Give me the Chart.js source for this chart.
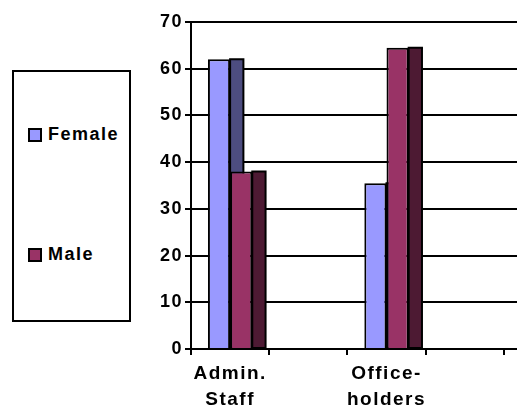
<!DOCTYPE html>
<html>
<head>
<meta charset="utf-8">
<script src="https://cdn.jsdelivr.net/npm/chart.js@4/dist/chart.umd.min.js"></script>
<style>
    html, body { margin: 0; padding: 0; width: 517px; height: 411px; overflow: hidden; background: #fff; }
    #chartWrap { position: absolute; left: 0; top: 0; width: 600px; height: 411px; }
    #legendBox {
        position: absolute; left: 12px; top: 70px; width: 115px; height: 248px;
        border: 2px solid #000; background: #fff;
        font-family: Arial, "Liberation Sans", sans-serif; font-weight: bold; font-size: 18px;
        letter-spacing: 1.5px;
    }
    .lg-item { position: absolute; left: 14px; display: flex; align-items: center; }
    .lg-swatch { width: 10px; height: 10px; border: 2px solid #000; margin-right: 6px; }
</style>
</head>
<body>
<div id="chartWrap"><canvas id="chart" width="600" height="411"></canvas></div>
<div id="legendBox"></div>
<script>
// Data
const categories = [['Admin.', 'Staff'], '', ['Office-', 'holders'], '', ''];
const femaleValues = [62, null, 35.5, null, null];
const maleValues = [38, null, 64.5, null, null];
const yTicks = [0, 10, 20, 30, 40, 50, 60, 70];

const seriesNames = ['Female', 'Male'];
const frontColors = ['#9999ff', '#993366'];
const sideColors = ['#4d4d80', '#4d1a33'];

// Legend (html)
const legendBox = document.getElementById('legendBox');
const legendTops = [52, 172];
seriesNames.forEach((name, i) => {
    const item = document.createElement('div');
    item.className = 'lg-item';
    item.style.top = legendTops[i] + 'px';
    item.innerHTML = `<span class="lg-swatch" style="background:${frontColors[i]}"></span><span>${name}</span>`;
    legendBox.appendChild(item);
});

// wider lettering like the original picture
const spacingPlugin = {
    id: 'spacing',
    beforeDraw(chart) { chart.ctx.letterSpacing = '1.5px'; }
};

// Draw bars in dataset order with a darker side face (old excel 3d look)
const sideFacePlugin = {
    id: 'sideFace',
    beforeDatasetsDraw(chart) {
        const ctx = chart.ctx;
        ctx.save();
        chart.data.datasets.forEach((ds, di) => {
            const meta = chart.getDatasetMeta(di);
            meta.data.forEach((bar, idx) => {
                if (ds.data[idx] == null) return;
                bar.draw(ctx);
                const p = bar.getProps(['x', 'y', 'base', 'width'], true);
                const x0 = p.x + p.width / 2;
                const depth = p.width * 0.6;
                ctx.beginPath();
                ctx.rect(x0, p.y, depth, p.base - p.y);
                ctx.fillStyle = sideColors[di];
                ctx.fill();
                ctx.lineWidth = 2;
                ctx.strokeStyle = '#000';
                ctx.stroke();
            });
        });
        ctx.restore();
        return false;
    }
};

const font = { family: 'Arial, "Liberation Sans", sans-serif', weight: 'bold' };

new Chart(document.getElementById('chart'), {
    type: 'bar',
    data: {
        labels: categories,
        datasets: [
            { label: seriesNames[0], data: femaleValues, backgroundColor: frontColors[0], borderColor: '#000', borderWidth: 2 },
            { label: seriesNames[1], data: maleValues, backgroundColor: frontColors[1], borderColor: '#000', borderWidth: 2 }
        ]
    },
    options: {
        responsive: false,
        animation: false,
        layout: { padding: { left: 150, right: 18, top: 22, bottom: 0 } },
        datasets: { bar: { categoryPercentage: 0.567, barPercentage: 1 } },
        plugins: { legend: { display: false }, tooltip: { enabled: false } },
        scales: {
            x: {
                offset: true,
                grid: { offset: true, drawOnChartArea: false, drawTicks: true, tickLength: 6, color: '#000', lineWidth: 2 },
                border: { display: true, color: '#000', width: 2 },
                ticks: { color: '#000', font: { ...font, size: 19, lineHeight: 1.4 }, padding: 5, maxRotation: 0, autoSkip: false },
                afterFit(scale) { scale.height = 62; }
            },
            y: {
                min: 0, max: 70,
                afterBuildTicks(scale) { scale.ticks = yTicks.map(v => ({ value: v })); },
                grid: { color: '#000', lineWidth: 2, tickLength: 6 },
                border: { display: true, color: '#000', width: 2 },
                ticks: { color: '#000', font: { ...font, size: 18 }, padding: 2 },
                afterFit(scale) { scale.width = 41; }
            }
        }
    },
    plugins: [spacingPlugin, sideFacePlugin]
});
</script>
</body>
</html>
